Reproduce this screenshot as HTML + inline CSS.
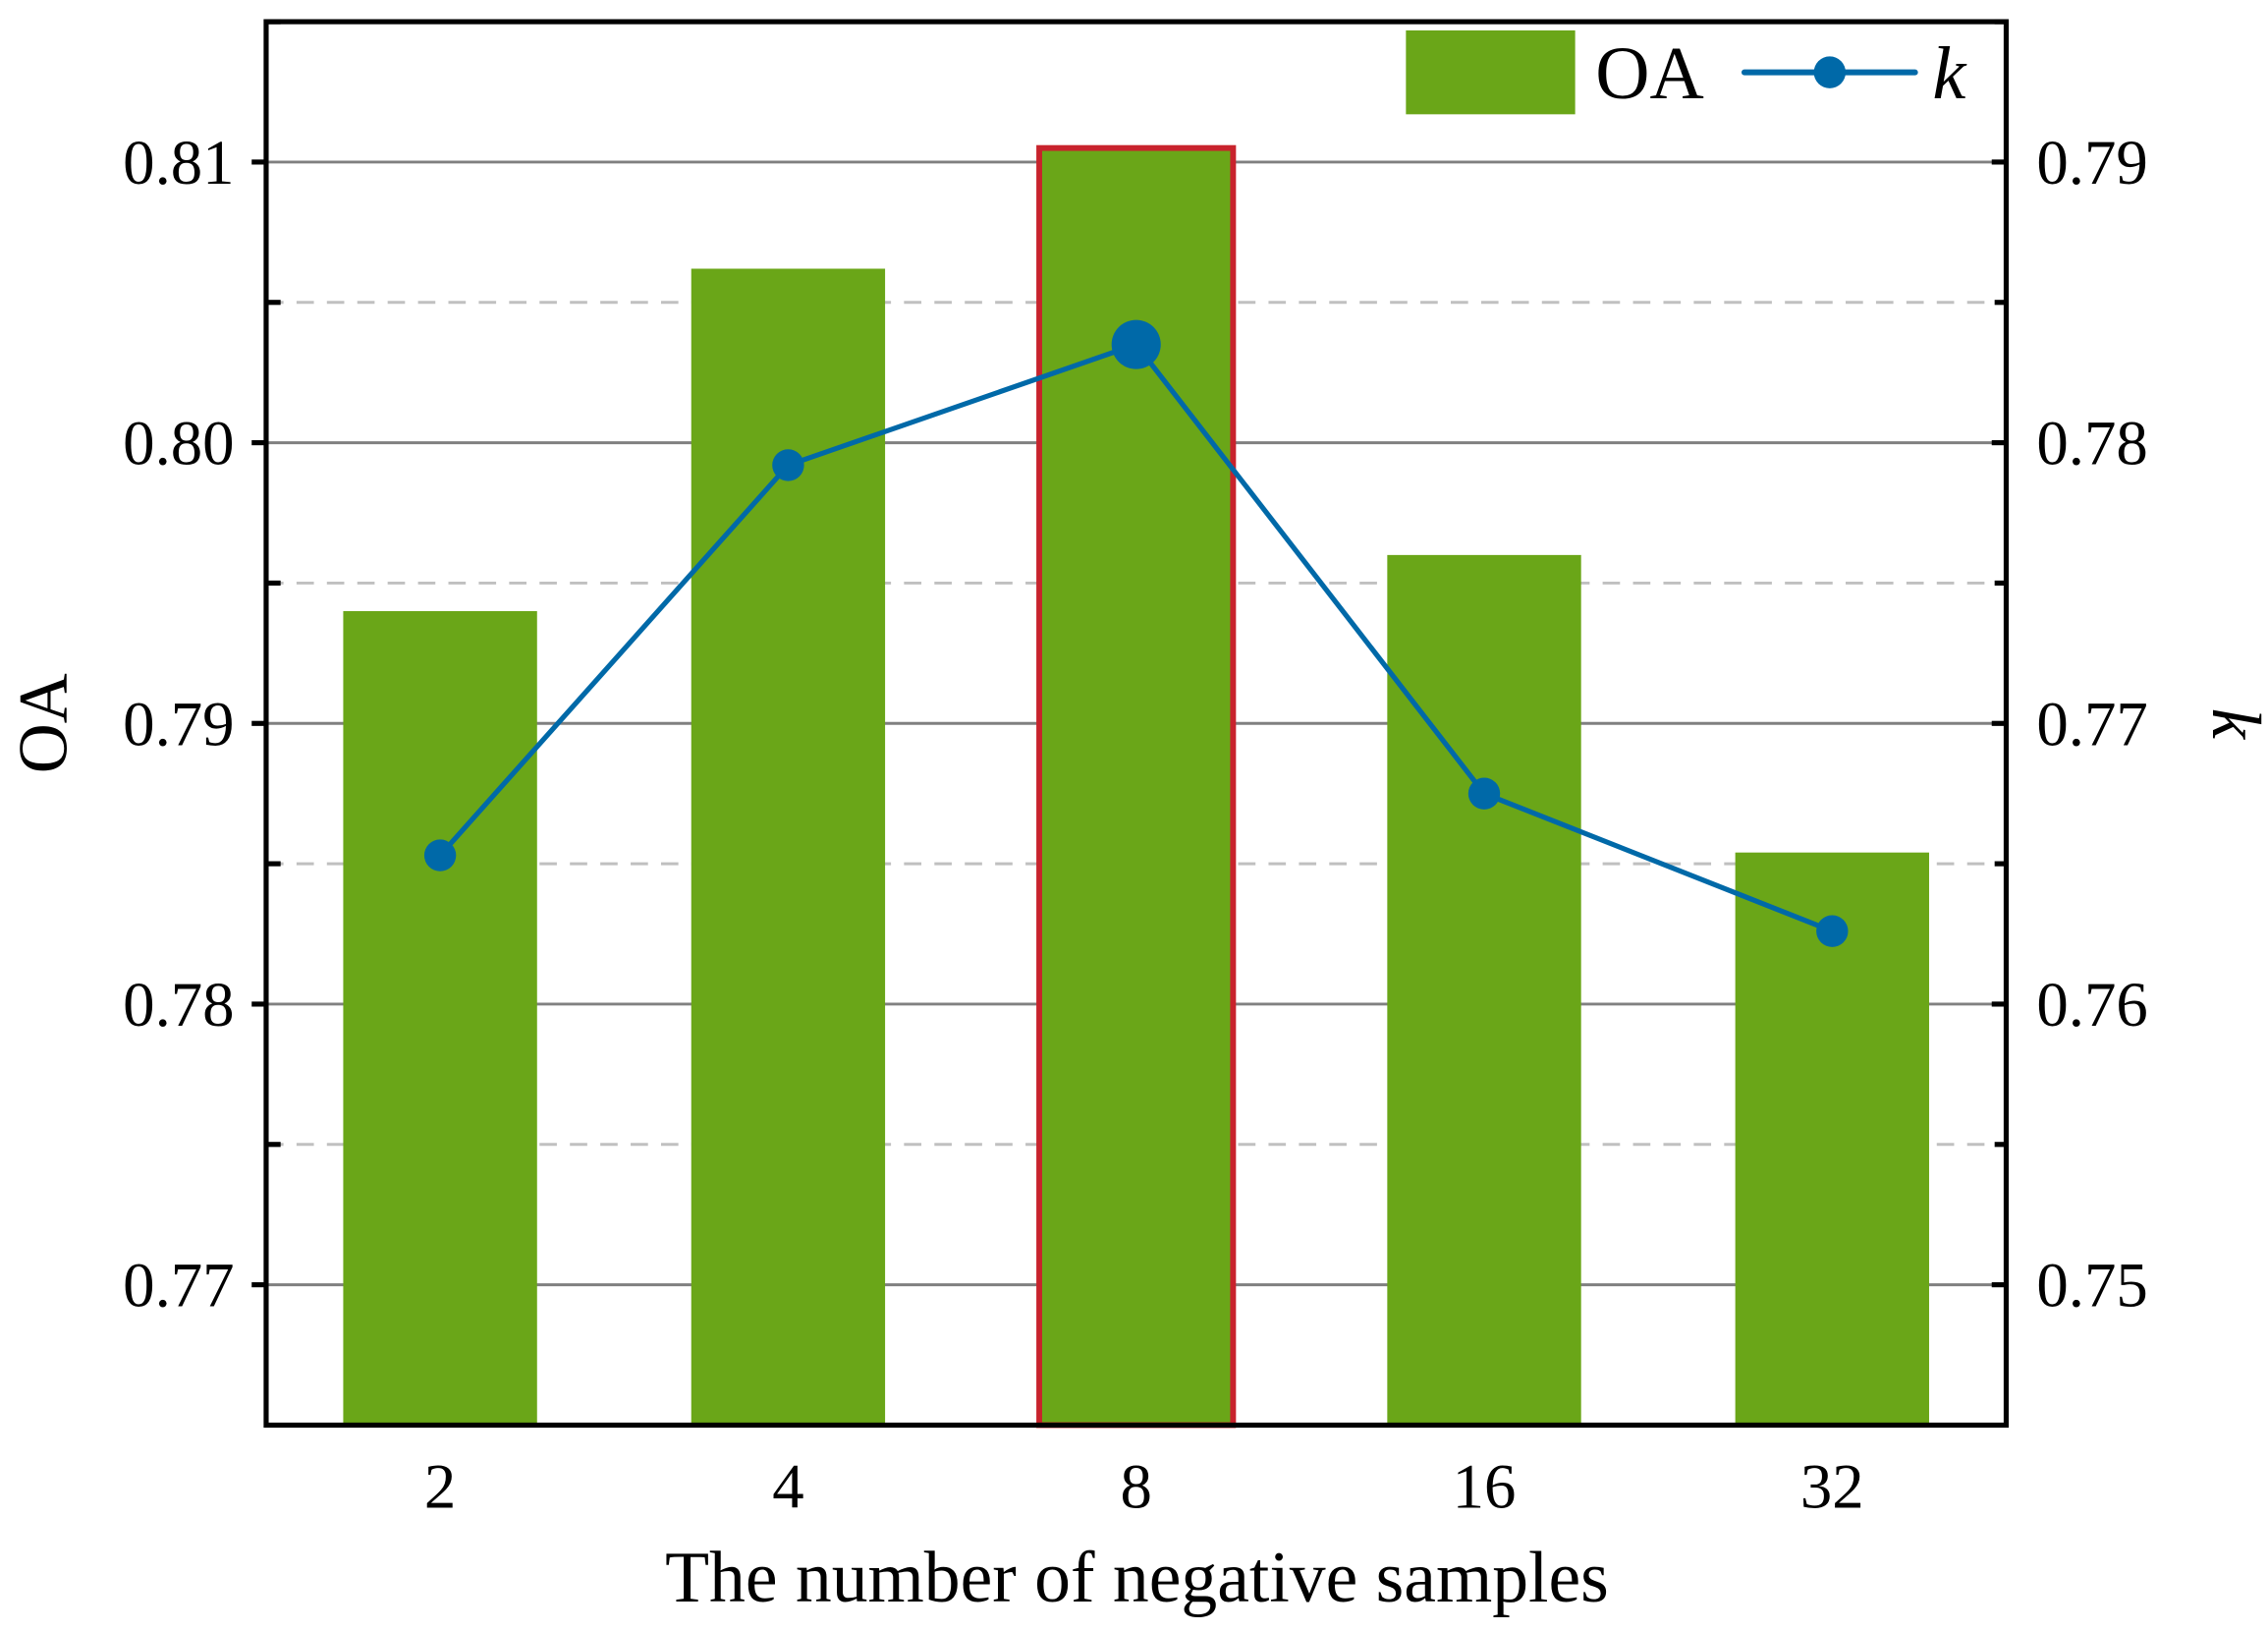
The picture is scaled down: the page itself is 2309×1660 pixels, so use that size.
<!DOCTYPE html>
<html><head><meta charset="utf-8"><style>
html,body{margin:0;padding:0;background:#fff;}
svg{display:block;font-family:"Liberation Serif",serif;}
</style></head><body>
<svg id="chart" width="2309" height="1660" viewBox="0 0 1568 1127.3" preserveAspectRatio="none" xmlns="http://www.w3.org/2000/svg">
<g id="grid"></g>
<g id="bars"></g>
<g id="line"></g>
<g id="axes"></g>
<g>
  <rect x="972" y="21" width="117" height="58" fill="#6aa618"/>
  <text x="1103" y="68" font-size="52">OA</text>
  <line x1="1206" y1="50" x2="1324" y2="50" stroke="#0069a8" stroke-width="4" stroke-linecap="round"/>
  <circle cx="1265" cy="50" r="11" fill="#0069a8"/>
  <text x="1336" y="68" font-size="52" font-style="italic">k</text>
</g>
<text transform="translate(46,500) rotate(-90)" text-anchor="middle" font-size="48">OA</text>
<text transform="translate(1530,500) rotate(90)" text-anchor="middle" font-size="48" font-style="italic">k</text>
<text x="786" y="1107" text-anchor="middle" font-size="50">The number of negative samples</text>
</svg>
<script>
const categories = ["2","4","8","16","32"];
const oaValues = [0.7940, 0.8062, 0.8105, 0.7960, 0.7854];
const kValues = [0.7653, 0.7792, 0.7835, 0.7675, 0.7626];
const leftTicks = [0.77, 0.78, 0.79, 0.80, 0.81];
const leftTickLabels = ["0.77","0.78","0.79","0.80","0.81"];
const rightTicks = [0.75, 0.76, 0.77, 0.78, 0.79];
const rightTickLabels = ["0.75","0.76","0.77","0.78","0.79"];
const highlightIndex = 2;

const NS="http://www.w3.org/2000/svg";
const L=184,R=1387,T=15,B=985;
const yL=v=>T+(0.815-v)/(0.815-0.765)*(B-T);
const yR=v=>T+(0.795-v)/(0.795-0.745)*(B-T);
const band=(R-L)/categories.length;
const xC=i=>L+band*(i+0.5);
const bw=band*0.557;
function mk(tag,attrs,parent){const e=document.createElementNS(NS,tag);for(const k in attrs)e.setAttribute(k,attrs[k]);parent.appendChild(e);return e;}
const grid=document.getElementById('grid'),bars=document.getElementById('bars'),line=document.getElementById('line'),axes=document.getElementById('axes');
leftTicks.forEach((v,i)=>{
  const g=mk('line',{x1:L,x2:R,y1:yL(v),y2:yL(v),stroke:'#808080','stroke-width':2},grid);
  
  
  const h=v+0.005;
  if(h<0.815){const d=mk('line',{x1:L,x2:R,y1:yL(h),y2:yL(h),stroke:'#c0c0c0','stroke-width':2,'stroke-dasharray':'12 9'},grid);
  
  }
});
oaValues.forEach((v,i)=>{
  const r=mk('rect',{x:xC(i)-bw/2,y:yL(v),width:bw,height:B-yL(v),fill:'#6aa618'},bars);
  
  
  if(i===highlightIndex){r.setAttribute('stroke','#c8232c');r.setAttribute('stroke-width',4);}
});
const pts=kValues.map((v,i)=>xC(i)+','+yR(v)).join(' ');
const pl=mk('polyline',{points:pts,fill:'none',stroke:'#0069a8','stroke-width':3.5},line);


kValues.forEach((v,i)=>{
  const c=mk('circle',{cx:xC(i),cy:yR(v),r:i===highlightIndex?17:11,fill:'#0069a8'},line);
  
  
});
const fr=mk('rect',{x:L,y:T,width:R-L,height:B-T,fill:'none',stroke:'#000','stroke-width':3.5},axes);


leftTicks.forEach((v,i)=>{
  const y=yL(v);
  mk('line',{x1:L-10,x2:L,y1:y,y2:y,stroke:'#000','stroke-width':3.5},axes);
  const t=mk('text',{x:L-22,y:y+15,'text-anchor':'end','font-size':44},axes);
  t.textContent=leftTickLabels[i];
  
  
  mk('line',{x1:L,x2:L+10,y1:yL(v+0.005),y2:yL(v+0.005),stroke:'#000','stroke-width':3.5},axes);
});
rightTicks.forEach((v,i)=>{
  const y=yR(v);
  mk('line',{x1:R-10,x2:R,y1:y,y2:y,stroke:'#000','stroke-width':3.5},axes);
  mk('line',{x1:R-8,x2:R,y1:yR(v+0.005),y2:yR(v+0.005),stroke:'#000','stroke-width':3.5},axes);
  const t=mk('text',{x:R+21,y:y+15,'text-anchor':'start','font-size':44},axes);
  t.textContent=rightTickLabels[i];
  
  
});
categories.forEach((c,i)=>{
  const t=mk('text',{x:xC(i),y:1042,'text-anchor':'middle','font-size':44},axes);
  t.textContent=c;
  
  
});
</script>
</body></html>
